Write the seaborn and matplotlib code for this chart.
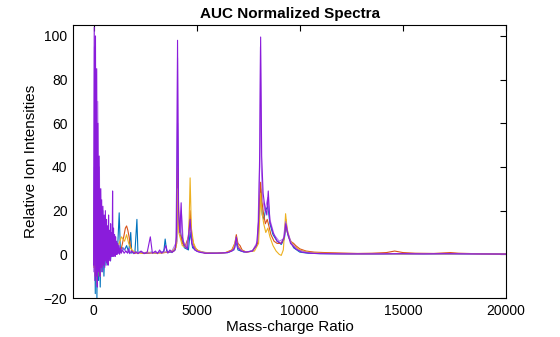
import matplotlib
matplotlib.use("Agg")
import matplotlib.pyplot as plt
import seaborn as sns
import pandas as pd

# ---------------- data ----------------
blue_mz = [
    0, 40, 80, 120, 160, 200, 240, 280, 320, 360,
    400, 450, 500, 550, 600, 650, 700, 760, 820, 880,
    940, 1000, 1080, 1160, 1240, 1300, 1400, 1500, 1600, 1700,
    1800, 1850, 1900, 2000, 2100, 2150, 2250, 2400, 2600, 2800,
    3000, 3200, 3400, 3470, 3550, 3800, 3950, 4030, 4070, 4120,
    4250, 4400, 4600, 4680, 4800, 5000, 5400, 6000, 6500, 6800,
    6900, 7000, 7300, 7700, 7950, 8050, 8100, 8180, 8260, 8330,
    8450, 8550, 8700, 8900, 9100, 9250, 9320, 9450, 9700, 10000,
    10400, 11000, 12500, 14000, 15500, 17000, 18500, 20000]
blue_int = [
    -3, 40, -18, 30, -20, 20, -12, 15, -15, 10,
    -8, 8, -10, 6, -5, 5, -4, 3, -3, 4,
    -1, 3, 5, 2, 19, 1, 3, 2, 4, 1,
    10, 0.5, 1, 0.5, 16, 0.5, 1, 0.5, 0.5, 1,
    0.5, 1, 1, 7, 1, 1, 2, 6, 60, 15,
    8, 3, 2, 10, 3, 1.5, 0.8, 0.5, 0.8, 2,
    6, 2, 1, 1.5, 5, 20, 30, 18, 16, 20,
    22, 14, 9, 6, 4.5, 7, 13, 8, 3, 1,
    0.5, 0.3, 0.2, 0.2, 0.2, 0.2, 0.2, 0.1]

orange_mz = [
    0, 40, 80, 120, 160, 200, 240, 280, 320, 360,
    400, 450, 500, 560, 620, 680, 740, 800, 880, 960,
    1040, 1120, 1200, 1300, 1400, 1480, 1540, 1600, 1660, 1720,
    1800, 1900, 2000, 2200, 2400, 2700, 3000, 3300, 3600, 3900,
    4030, 4070, 4150, 4300, 4450, 4600, 4680, 4760, 4900, 5100,
    5400, 5900, 6400, 6700, 6850, 6920, 7000, 7100, 7200, 7400,
    7700, 7950, 8050, 8100, 8150, 8250, 8330, 8420, 8500, 8600,
    8750, 8900, 9100, 9250, 9320, 9400, 9550, 9700, 9800, 10000,
    10300, 10700, 11200, 12000, 12800, 13500, 14200, 14600, 15000, 15600,
    16500, 17300, 17700, 18500, 19300, 20000]
orange_int = [
    -6, 30, -10, 25, -14, 18, -8, 12, -10, 10,
    -6, 8, -4, 6, -3, 4, -2, 3, -1, 2,
    1, 3, 2, 1, 5, 9, 12, 13, 11, 8,
    3, 1, 0.5, 0.8, 0.5, 0.5, 0.8, 0.6, 1, 1.5,
    5, 40, 12, 5, 4, 8, 20, 8, 3, 1.5,
    0.5, 0.5, 0.8, 2, 5, 9, 5, 4, 2, 1,
    1.5, 5, 25, 33, 25, 18, 14, 16, 13, 9,
    6, 5, 5, 8, 16, 10, 6, 5, 4, 2.5,
    1.5, 1, 0.8, 0.6, 0.4, 0.5, 0.8, 1.5, 0.8, 0.5,
    0.4, 0.8, 0.5, 0.3, 0.2, 0.1]

yellow_mz = [
    0, 50, 100, 150, 200, 250, 300, 360, 420, 480,
    540, 600, 680, 760, 850, 950, 1050, 1200, 1350, 1500,
    1600, 1700, 1850, 2000, 2300, 2600, 3000, 3400, 3800, 4000,
    4070, 4130, 4300, 4500, 4620, 4680, 4740, 4850, 5000, 5300,
    5800, 6300, 6700, 6850, 6920, 7000, 7150, 7400, 7800, 8000,
    8060, 8100, 8150, 8250, 8350, 8450, 8550, 8700, 8850, 9000,
    9100, 9200, 9260, 9310, 9380, 9500, 9700, 10000, 10400, 11000,
    12000, 13000, 14000, 15000, 16000, 17000, 18000, 19000, 20000]
yellow_int = [
    -4, 20, -8, 15, -10, 12, -6, 8, -5, 6,
    -3, 5, -2, 4, 3, 5, 2, 4, 8, 6,
    9, 5, 2, 1, 0.5, 1, 0.5, 0.8, 1.5, 3,
    30, 10, 4, 3, 10, 35, 12, 5, 2, 1,
    0.5, 0.6, 1.5, 5, 8, 4, 2, 1, 1.5, 5,
    18, 28, 20, 14, 10, 12, 8, 4, 1.5, 0,
    -0.5, 2, 10, 18.6, 12, 7, 4, 2, 1, 0.5,
    0.3, 0.2, 0.3, 0.2, 0.3, 0.2, 0.3, 0.2, 0.1]

violet_mz = [
    0, 40, 80, 120, 160, 200, 240, 280, 320, 360,
    400, 460, 520, 580, 640, 700, 780, 860, 940, 1020,
    1100, 1200, 1300, 1450, 1600, 1800, 2000, 2300, 2600, 3000,
    3400, 3800, 3980, 4040, 4070, 4110, 4200, 4250, 4350, 4500,
    4680, 4800, 5000, 5500, 6000, 6500, 6800, 6900, 7000, 7300,
    7700, 7950, 8050, 8090, 8130, 8200, 8300, 8450, 8550, 8750,
    9000, 9200, 9310, 9420, 9600, 9900, 10300, 10700, 11500, 12500,
    13500, 14500, 15500, 16500, 17500, 18500, 19500, 20000]
violet_int = [
    -8, 95, -5, 80, -14, 70, -6, 40, -10, 30,
    -5, 20, -6, 15, -3, 12, -2, 9, 3, 6,
    2, 4, 1.5, 3, 1, 1.5, 0.8, 1, 0.6, 0.8,
    1, 1.5, 5, 40, 90, 18, 9, 20, 6, 3,
    14, 4, 1.5, 0.6, 0.5, 0.8, 2, 7, 3, 1,
    1.5, 6, 40, 95, 40, 25, 20, 26, 16, 9,
    6, 7, 15, 10, 5, 2, 1, 0.5, 0.3, 0.2,
    0.2, 0.3, 0.2, 0.2, 0.3, 0.2, 0.2, 0.1]

purple_mz = [
    0, 30, 60, 90, 120, 150, 180, 210, 240, 270,
    300, 330, 360, 390, 420, 450, 480, 510, 540, 570,
    600, 625, 650, 675, 700, 725, 750, 775, 800, 825,
    850, 875, 900, 920, 940, 965, 990, 1015, 1040, 1065,
    1090, 1115, 1140, 1170, 1200, 1230, 1260, 1300, 1340, 1400,
    1480, 1560, 1650, 1700, 1750, 1850, 1950, 2050, 2150, 2300,
    2450, 2600, 2750, 2850, 3000, 3100, 3200, 3300, 3400, 3500,
    3600, 3700, 3800, 3950, 4020, 4070, 4120, 4180, 4245, 4300,
    4400, 4550, 4680, 4760, 4900, 5100, 5400, 5800, 6200, 6500,
    6700, 6850, 6920, 7000, 7150, 7400, 7700, 7900, 8000, 8060,
    8100, 8150, 8220, 8300, 8400, 8470, 8550, 8700, 8900, 9100,
    9250, 9320, 9400, 9550, 9800, 10100, 10500, 11000, 12000, 13000,
    14000, 15000, 16000, 17000, 18000, 20000]
purple_int = [
    -5, 104, -12, 100, -10, 85, -15, 60, -8, 45,
    -10, 30, -6, 25, -8, 22, -5, 18, -6, 20,
    -3, 16, -4, 13, -5, 18, -2, 11, -3, 14,
    -1, 10, 3, 29, -1, 12, 0, 9, -1, 8,
    0, 6, 0, 5, 0.5, 4, 0, 3, 0.5, 2,
    0.5, 1.5, 0.5, 2.5, 0.3, 1.5, 0.3, 1.2, 0.3, 1.5,
    0.3, 1, 8, 0.5, 1.5, 0.3, 2, 0.5, 1.5, 4,
    0.5, 2, 0.8, 2, 8, 98, 20, 10, 23.6, 8,
    4, 2.5, 16, 5, 2, 1, 0.5, 0.5, 0.6, 0.8,
    1.5, 3, 8, 3, 1.5, 1, 1.5, 4, 15, 50,
    99.5, 45, 28, 22, 18, 29, 15, 10, 6, 5,
    8, 14, 10, 5, 2.5, 1, 0.5, 0.3, 0.2, 0.2,
    0.2, 0.3, 0.2, 0.3, 0.2, 0.1]

x_ticks = [0, 5000, 10000, 15000, 20000]
y_ticks = [-20, 0, 20, 40, 60, 80, 100]

series = [
    ("blue", blue_mz, blue_int, "#0072BD", 1.0),
    ("orange", orange_mz, orange_int, "#D95319", 1.0),
    ("yellow", yellow_mz, yellow_int, "#EDB120", 1.0),
    ("violet", violet_mz, violet_int, "#A45EE5", 0.8),
    ("purple", purple_mz, purple_int, "#8A1CDB", 1.0),
]

# ---------------- plot ----------------
sns.set_style("white")
plt.rcParams["font.family"] = ["Liberation Sans", "DejaVu Sans"]

fig = plt.figure(figsize=(5.6, 3.37), dpi=100)
ax = fig.add_axes([73 / 560, 1 - 298 / 337, (506 - 73) / 560, (298 - 25) / 337])

for name, mz, inten, col, a in series:
    assert len(mz) == len(inten), name
    df = pd.DataFrame({"mz": mz, "intensity": inten})
    sns.lineplot(data=df, x="mz", y="intensity", color=col, alpha=a,
                 linewidth=0.8, estimator=None, sort=False, ax=ax)

ax.set_xlim(-1000, 20000)
ax.set_ylim(-20, 105)
ax.set_xticks(x_ticks)
ax.set_yticks(y_ticks)
ax.tick_params(direction="in", top=True, right=True, length=4, width=0.8,
               labelsize=10, colors="black", pad=4)
for s in ax.spines.values():
    s.set_visible(True)
    s.set_color("black")
    s.set_linewidth(0.8)

ax.set_xlabel("Mass-charge Ratio", fontsize=11, color="black", labelpad=2)
ax.set_ylabel("Relative Ion Intensities", fontsize=11, color="black", labelpad=4)
ax.set_title("AUC Normalized Spectra", fontsize=11, fontweight="bold",
             color="black", pad=5)

fig.savefig("out.png", dpi=100)
